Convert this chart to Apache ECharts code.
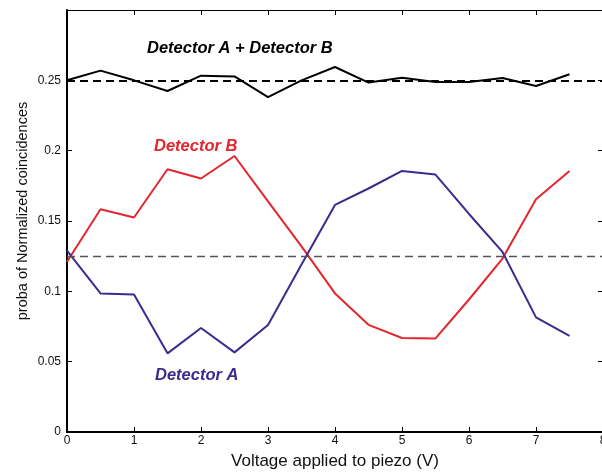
<!DOCTYPE html>
<html>
<head>
<meta charset="utf-8">
<script src="https://cdn.jsdelivr.net/npm/echarts@6/dist/echarts.min.js"></script>
<style>
	html, body { margin: 0; padding: 0; background: #fff; }
	#chart { width: 602px; height: 472px; }
</style>
</head>
<body>
<div id="chart"></div>
<script>
// voltages (V)
const voltage = [0, 0.5, 1, 1.5, 2, 2.5, 3, 3.5, 4, 4.5, 5, 5.5, 6, 6.5, 7, 7.5]
const detectorA = [0.129, 0.0985, 0.0978, 0.0559, 0.0739, 0.0566, 0.076, 0.119, 0.1614, 0.1731, 0.1856, 0.183, 0.155, 0.128, 0.0815, 0.0684]
const detectorB = [0.121, 0.1584, 0.1525, 0.1868, 0.1802, 0.1962, 0.164, 0.132, 0.0985, 0.0762, 0.0668, 0.0665, 0.0942, 0.1233, 0.1655, 0.1856]
const detectorSum = [0.25, 0.2569, 0.25, 0.2424, 0.2533, 0.2528, 0.2381, 0.25, 0.2595, 0.2484, 0.2519, 0.2488, 0.2488, 0.2516, 0.246, 0.2543]
const refLevels = [0.25, 0.125]
const yTicks = [0, 0.05, 0.1, 0.15, 0.2, 0.25]

const myChart = echarts.init(document.getElementById('chart'), null, { renderer: 'canvas' })

const font = 'Liberation Sans, Arial, Helvetica, sans-serif'
const pair = (ys) => voltage.map((x, i) => [x, ys[i]])

const lineSeries = (name, ys, color) => ({
	name: name,
	type: 'line',
	data: pair(ys),
	symbol: 'none',
	lineStyle: { color: color, width: 2 },
	z: 3,
})

let option = {
	animation: false,
	grid: { left: 67, top: 10, width: 536, bottom: 40, outerBoundsMode: 'none', containLabel: false },
	xAxis: [
		{
			type: 'value',
			min: 0,
			max: 8,
			interval: 1,
			name: 'Voltage applied to piezo (V)',
			nameLocation: 'middle',
			nameGap: 21,
			nameTextStyle: { fontFamily: font, fontSize: 17, color: '#111' },
			axisLine: { onZero: false, lineStyle: { color: '#000', width: 2 } },
			axisTick: { inside: true, length: 5, lineStyle: { color: '#000' } },
			axisLabel: { fontFamily: font, fontSize: 12, color: '#111', margin: 3 },
			splitLine: { show: false },
		},
		{
			type: 'value',
			position: 'top',
			min: 0,
			max: 8,
			interval: 1,
			axisLine: { onZero: false, lineStyle: { color: '#000', width: 1 } },
			axisTick: { inside: true, length: 5, lineStyle: { color: '#000' } },
			axisLabel: { show: false },
			splitLine: { show: false },
		},
	],
	yAxis: [
		{
			type: 'value',
			min: 0,
			max: 0.3,
			interval: 0.05,
			name: 'proba of Normalized coincidences',
			nameLocation: 'middle',
			nameGap: 37,
			nameMoveOverlap: false,
			nameTextStyle: { fontFamily: font, fontSize: 14.5, color: '#111', padding: [0, 0, 0, 20] },
			axisLine: { onZero: false, lineStyle: { color: '#000', width: 2 } },
			axisTick: { inside: true, length: 5, lineStyle: { color: '#000' } },
			axisLabel: {
				fontFamily: font,
				fontSize: 12,
				color: '#111',
				margin: 6,
				showMaxLabel: false,
				formatter: (v) => (yTicks.some((t) => Math.abs(t - v) < 1e-9) ? String(+v.toFixed(2)) : ''),
			},
			splitLine: { show: false },
		},
		{
			type: 'value',
			position: 'right',
			min: 0,
			max: 0.3,
			interval: 0.05,
			axisLine: { onZero: false, lineStyle: { color: '#000', width: 1 } },
			axisTick: { inside: true, length: 5, lineStyle: { color: '#000' } },
			axisLabel: { show: false },
			splitLine: { show: false },
		},
	],
	series: [
		{
			name: 'refs',
			type: 'line',
			data: [],
			markLine: {
				silent: true,
				symbol: 'none',
				precision: 4,
				label: { show: false },
				data: [
					{ yAxis: refLevels[0], lineStyle: { color: '#000', type: [8, 5], width: 2 } },
					{ yAxis: refLevels[1], lineStyle: { color: '#555', type: [8, 5], width: 1.3 } },
				],
			},
		},
		lineSeries('Detector A + Detector B', detectorSum, '#000'),
		lineSeries('Detector B', detectorB, '#e3262e'),
		lineSeries('Detector A', detectorA, '#3d2a8e'),
	],
	graphic: [
		{
			type: 'text',
			left: 147,
			top: 40,
			style: { text: 'Detector A + Detector B', font: 'italic bold 16.5px ' + font, fill: '#000' },
		},
		{
			type: 'text',
			left: 154,
			top: 138,
			style: { text: 'Detector B', font: 'italic bold 16.5px ' + font, fill: '#e3262e' },
		},
		{
			type: 'text',
			left: 155,
			top: 367,
			style: { text: 'Detector A', font: 'italic bold 16.5px ' + font, fill: '#3d2a8e' },
		},
	],
}
myChart.setOption(option)

window.addEventListener('resize', () => {
	myChart.resize()
})
</script>
</body>
</html>
